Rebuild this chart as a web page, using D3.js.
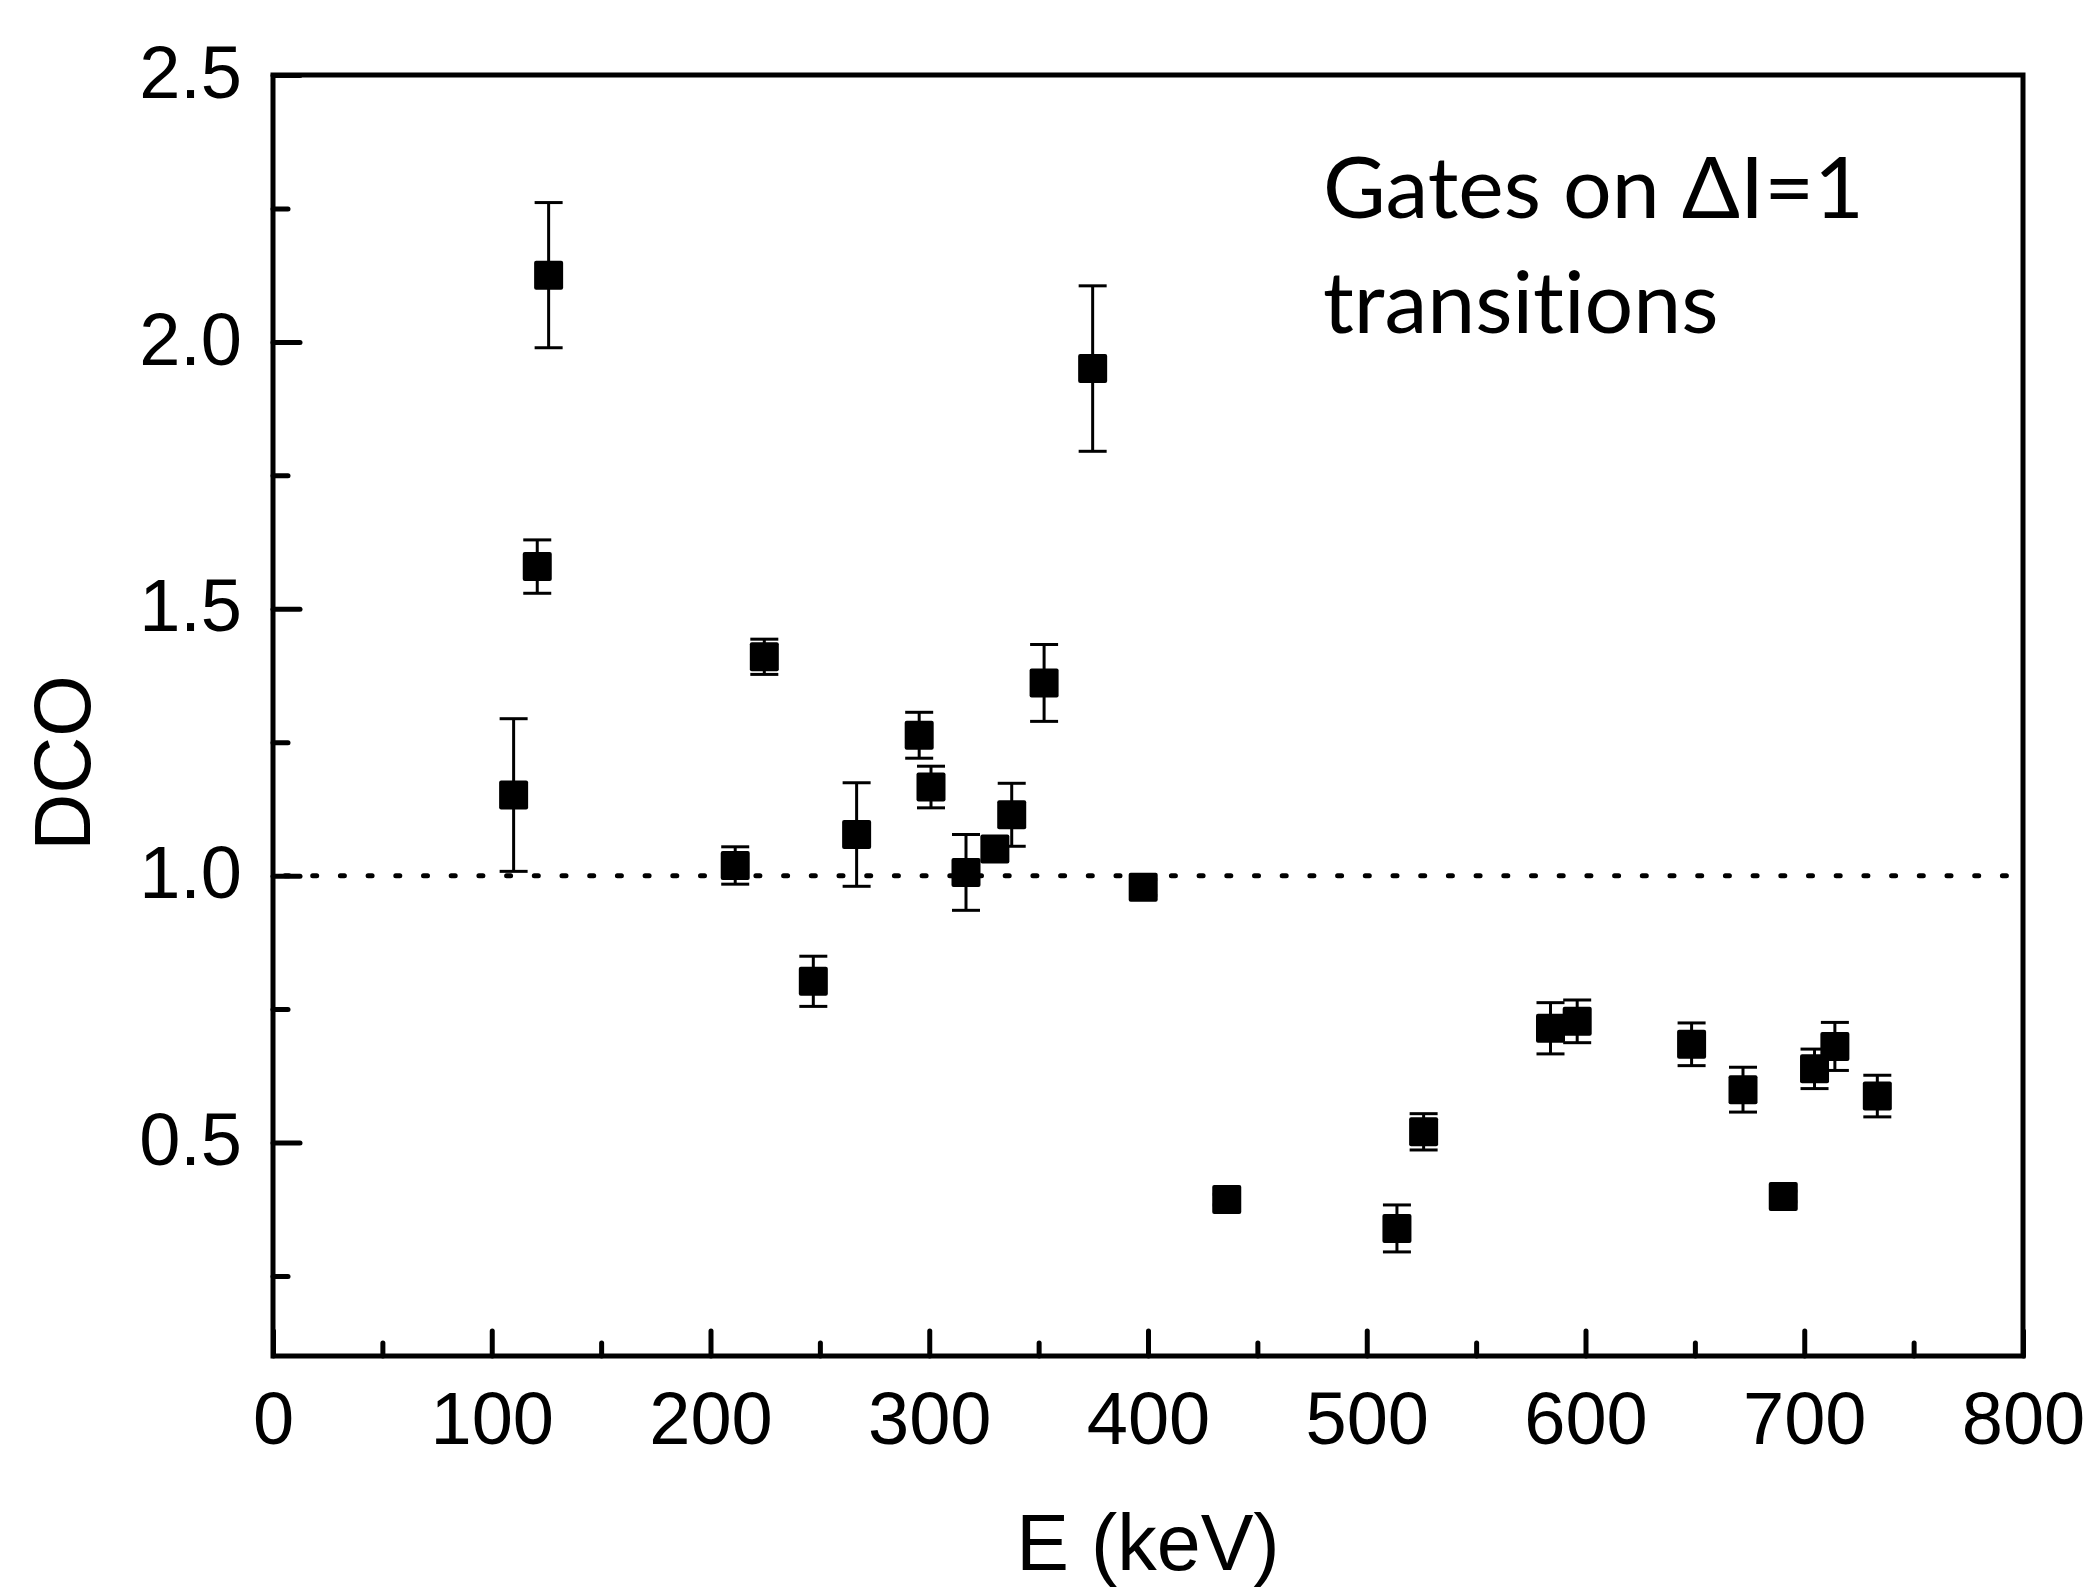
<!DOCTYPE html>
<html lang="en">
    <head>
        <meta charset="utf-8" />
        <title>DCO vs E</title>
        <style>
            body { margin: 0; background: #fff; }
            svg text { fill: #000; }
            .axis text { font-family: "Liberation Sans", Arial, sans-serif; font-size: 74px; }
            .axis line { stroke: #000; stroke-width: 5px; stroke-linecap: round; }
            .axis path { display: none; }
        </style>
        <script src="https://cdn.jsdelivr.net/npm/d3@7"></script>
    </head>
    <body>
        <script>
            // measured points (E in keV, DCO ratio, error)
            var energies = [110, 120.8, 126, 211.3, 224.6, 247, 266.8, 295.4, 300.8, 316.8, 330, 337.7, 352.5,
                            374.7, 397.8, 436, 513.8, 526, 584, 596.2, 648.5, 672, 690.4, 704.7, 714, 733.4];
            var dco = [1.151, 1.579, 2.125, 1.019, 1.41, 0.802, 1.077, 1.263, 1.166, 1.006, 1.05, 1.114, 1.361,
                       1.95, 0.978, 0.393, 0.339, 0.52, 0.714, 0.727, 0.684, 0.599, 0.399, 0.638, 0.68, 0.587];
            var dcoErr = [0.143, 0.05, 0.136, 0.035, 0.033, 0.047, 0.097, 0.043, 0.039, 0.071, 0.02, 0.059, 0.072,
                          0.155, 0.015, 0.01, 0.044, 0.034, 0.048, 0.04, 0.04, 0.042, 0.01, 0.037, 0.045, 0.039];

            var xMajor = [0, 100, 200, 300, 400, 500, 600, 700, 800];
            var xMinor = [50, 150, 250, 350, 450, 550, 650, 750];
            var yMajor = [0.5, 1.0, 1.5, 2.0, 2.5];
            var yMinor = [0.25, 0.75, 1.25, 1.75, 2.25];
            var refLine = 1.0;
            var noteLines = ['Gates on \u0394I=1', 'transitions'];

            var width = 2100,
                height = 1588,
                pLeft = 273, pRight = 2023, pTop = 75, pBottom = 1356;

            var x = d3.scaleLinear().domain([0, 800]).range([pLeft, pRight]);
            var y = d3.scaleLinear().domain([0.1, 2.5]).range([pBottom, pTop]);

            var svg = d3.select('body').append('svg')
                .attr('width', width)
                .attr('height', height);

            // x axis: inward ticks
            svg.append('g').attr('class', 'axis')
                .attr('transform', 'translate(0,' + pBottom + ')')
                .call(d3.axisBottom(x).tickValues(xMajor).tickSizeInner(-25).tickSizeOuter(0).tickPadding(35)
                    .tickFormat(d3.format('d')));
            svg.append('g').attr('class', 'axis')
                .attr('transform', 'translate(0,' + pBottom + ')')
                .call(d3.axisBottom(x).tickValues(xMinor).tickSizeInner(-13).tickSizeOuter(0).tickFormat(''));

            // y axis
            svg.append('g').attr('class', 'axis')
                .attr('transform', 'translate(' + pLeft + ',0)')
                .call(d3.axisLeft(y).tickValues(yMajor).tickSizeInner(-27).tickSizeOuter(0).tickPadding(31)
                    .tickFormat(d3.format('.1f')))
                .selectAll('text').attr('dy', '0.3em');
            svg.append('g').attr('class', 'axis')
                .attr('transform', 'translate(' + pLeft + ',0)')
                .call(d3.axisLeft(y).tickValues(yMinor).tickSizeInner(-15).tickSizeOuter(0).tickFormat(''));

            // frame
            svg.append('rect')
                .attr('x', pLeft).attr('y', pTop)
                .attr('width', pRight - pLeft).attr('height', pBottom - pTop)
                .attr('fill', 'none').attr('stroke', '#000').attr('stroke-width', 5);

            // dotted reference line at DCO = 1
            svg.append('line')
                .attr('x1', pLeft + 12).attr('x2', pRight - 5)
                .attr('y1', y(refLine)).attr('y2', y(refLine))
                .attr('stroke', '#000').attr('stroke-width', 5)
                .attr('stroke-linecap', 'round')
                .attr('stroke-dasharray', '4,23.7');

            var pts = energies.map(function(e, i) {
                return { e: e, v: dco[i], err: dcoErr[i] };
            });

            var g = svg.append('g').selectAll('g')
                .data(pts)
                .enter()
                .append('g');

            g.append('line')
                .attr('x1', function(d) { return x(d.e); })
                .attr('x2', function(d) { return x(d.e); })
                .attr('y1', function(d) { return y(d.v + d.err); })
                .attr('y2', function(d) { return y(d.v - d.err); })
                .attr('stroke', '#000').attr('stroke-width', 3);
            [1, -1].forEach(function(s) {
                g.append('line')
                    .attr('x1', function(d) { return x(d.e) - 14; })
                    .attr('x2', function(d) { return x(d.e) + 14; })
                    .attr('y1', function(d) { return y(d.v + s * d.err); })
                    .attr('y2', function(d) { return y(d.v + s * d.err); })
                    .attr('stroke', '#000').attr('stroke-width', 3);
            });

            g.append('rect')
                .attr('x', function(d) { return x(d.e) - 14.5; })
                .attr('y', function(d) { return y(d.v) - 14.5; })
                .attr('width', 29).attr('height', 29)
                .attr('rx', 2)
                .attr('fill', '#000');

            // axis titles
            svg.append('text')
                .attr('x', (pLeft + pRight) / 2).attr('y', 1570)
                .attr('text-anchor', 'middle')
                .style('font-family', '"Liberation Sans", Arial, sans-serif')
                .style('font-size', '79px')
                .text('E (keV)');

            svg.append('text')
                .attr('transform', 'translate(90,763) rotate(-90)')
                .attr('text-anchor', 'middle')
                .style('font-family', '"Liberation Sans", Arial, sans-serif')
                .style('font-size', '79px')
                .text('DCO');

            // note
            var note = svg.append('text')
                .style('font-family', 'Lato, "Open Sans", sans-serif')
                .style('font-size', '86px')
                .style('font-variant-ligatures', 'none');
            note.selectAll('tspan')
                .data(noteLines)
                .enter()
                .append('tspan')
                .attr('x', 1323)
                .attr('y', function(d, i) { return 218 + i * 115; })
                .text(function(d) { return d; });
        </script>
    </body>
</html>
